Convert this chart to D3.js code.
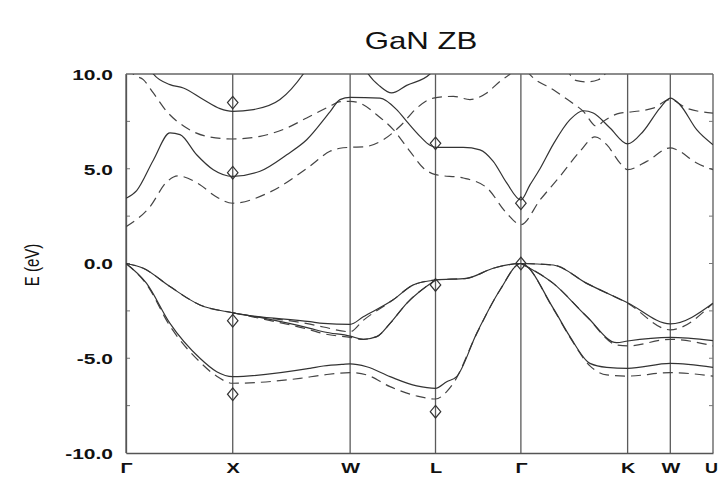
<!DOCTYPE html>
<html>
<head>
<meta charset="utf-8">
<script src="https://cdn.jsdelivr.net/npm/d3@7"></script>
<style>
  html, body { margin: 0; padding: 0; background: #fff; }
  svg { display: block; }
  text { font-family: "Liberation Sans", Arial, Helvetica, sans-serif; fill: #111; }
</style>
</head>
<body>
<svg id="chart" width="718" height="477"></svg>
<script>
// ---- data ----
const titleText = "GaN ZB";
const yLabel = "E (eV)";
const kTicks = [0, 1, 2.1, 2.9, 3.7, 4.7, 5.1, 5.5];
const kLabels = ["Γ", "X", "W", "L", "Γ", "K", "W", "U"];
const eTicks = [-10, -5, 0, 5, 10];
const eTickLabels = ["-10.0", "-5.0", "0.0", "5.0", "10.0"];
const eMinorTicks = [-7.5, -5, -2.5, 0, 2.5, 5, 7.5];

// solid bands (theory 1)
const solidCond1 = [[0,3.44],[0.10,3.85],[0.256,5.45],[0.412,6.89],[0.506,6.8],[0.662,5.74],[0.818,4.95],[1.0,4.6],[1.256,4.87],[1.506,5.74],[1.693,6.53],[1.911,8.0],[2.005,8.65],[2.1,8.77],[2.38,8.73],[2.536,8.12],[2.63,7.5],[2.755,6.71],[2.848,6.24],[2.9,6.13],[3.16,6.13],[3.317,6.0],[3.441,5.39],[3.567,4.25],[3.7,3.35],[3.785,4.15],[3.879,5.0],[4.004,6.3],[4.16,7.59],[4.285,8.06],[4.378,7.94],[4.535,7.15],[4.7,6.31],[4.847,6.98],[5.003,8.2],[5.1,8.73],[5.19,8.38],[5.347,7.06],[5.5,6.27]];
const solidCond2 = [[0.2,10.5],[0.256,10.0],[0.412,9.44],[0.537,9.26],[0.724,8.65],[0.881,8.17],[1.0,8.03],[1.193,8.12],[1.443,8.65],[1.661,10.0],[1.72,10.5]];
const solidCond3 = [[2.22,10.5],[2.27,10.0],[2.38,9.35],[2.489,9.0],[2.63,9.4],[2.848,10.0],[2.88,10.3]];
const solidVal1 = [[0,0],[0.162,-0.25],[0.412,-1.22],[0.693,-2.19],[1.0,-2.6],[1.724,-3.07],[1.849,-3.16],[2.1,-3.21],[2.223,-2.81],[2.5,-1.93],[2.692,-1.13],[2.9,-0.87],[3.192,-0.78],[3.441,-0.25],[3.7,0],[4.004,-0.08],[4.317,-1.05],[4.7,-2.07],[5.1,-3.19],[5.5,-2.1]];
const solidVal2a = [[1.0,-2.6],[1.3,-2.9],[1.724,-3.42],[1.849,-3.6],[2.1,-3.83],[2.223,-4.0],[2.349,-3.86],[2.474,-3.16],[2.63,-2.1],[2.9,-0.87]];
const solidVal2b = [[3.7,0],[4.004,-1.05],[4.317,-2.8],[4.598,-4.18],[4.7,-4.09],[5.1,-3.9],[5.5,-4.07]];
const solidVal3 = [[0,0],[0.193,-1.05],[0.412,-3.16],[0.693,-5.0],[0.85,-5.71],[1.0,-5.97],[1.724,-5.53],[1.849,-5.41],[2.036,-5.32],[2.1,-5.3],[2.255,-5.45],[2.474,-5.97],[2.724,-6.46],[2.9,-6.59],[3.005,-6.24],[3.098,-5.97],[3.286,-3.68],[3.504,-1.4],[3.7,0],[4.004,-2.37],[4.16,-3.86],[4.347,-5.27],[4.504,-5.48],[4.7,-5.53],[5.1,-5.27],[5.5,-5.48]];

// dashed bands (theory 2)
const dashCondA = [[0,1.94],[0.225,3.0],[0.381,4.3],[0.487,4.62],[0.693,4.16],[0.834,3.56],[1.0,3.18],[1.349,3.77],[1.724,5.14],[1.911,5.92],[2.005,6.08],[2.1,6.13],[2.223,6.15],[2.411,6.53],[2.567,7.24],[2.724,8.2],[2.88,8.73],[3.067,8.82],[3.223,8.65],[3.38,9.0],[3.504,9.61],[3.598,10.0],[3.7,10.6],[3.785,9.97],[4.004,9.17],[4.16,8.56],[4.285,8.03],[4.41,7.24],[4.472,7.5],[4.629,7.94],[4.7,7.98],[4.94,8.2],[5.1,8.65],[5.253,8.2],[5.5,7.94]];
const dashCondB = [[0.02,10.4],[0.068,10.0],[0.162,9.7],[0.256,9.0],[0.381,8.03],[0.569,7.15],[0.756,6.71],[1.0,6.57],[1.256,6.71],[1.506,7.15],[1.693,7.68],[1.911,8.3],[2.005,8.54],[2.1,8.56],[2.223,8.38],[2.349,7.85],[2.505,7.06],[2.661,5.92],[2.786,5.04],[2.9,4.69],[3.16,4.51],[3.38,4.0],[3.567,2.65],[3.7,2.05],[3.879,3.35],[4.066,4.6],[4.254,5.92],[4.394,6.68],[4.504,6.27],[4.629,5.3],[4.7,4.95],[4.879,5.39],[5.1,6.1],[5.16,6.0],[5.347,5.3],[5.5,4.95]];
const dashCondC = [[4.13,10.4],[4.16,9.97],[4.223,9.65],[4.317,9.58],[4.425,9.7],[4.488,10.0],[4.52,10.4]];
const dashVal1 = [[0,0],[0.162,-0.25],[0.412,-1.22],[0.693,-2.19],[1.0,-2.6],[1.724,-3.2],[1.849,-3.35],[2.1,-3.6],[2.223,-3.0],[2.5,-1.93],[2.692,-1.13],[2.9,-0.87],[3.192,-0.78],[3.441,-0.25],[3.7,0],[4.004,-0.08],[4.317,-1.05],[4.7,-2.1],[5.1,-3.5],[5.5,-2.1]];
const dashVal2a = [[1.0,-2.6],[1.3,-2.95],[1.724,-3.5],[1.849,-3.7],[2.1,-3.9],[2.223,-4.0],[2.349,-3.86],[2.474,-3.16],[2.63,-2.1],[2.9,-0.87]];
const dashVal2b = [[3.7,0],[4.004,-1.05],[4.317,-2.8],[4.598,-4.3],[4.7,-4.35],[5.1,-4.0],[5.5,-4.35]];
const dashVal3 = [[0,0],[0.193,-1.1],[0.412,-3.3],[0.693,-5.2],[0.85,-5.95],[1.0,-6.32],[1.63,-6.06],[1.849,-5.88],[2.1,-5.76],[2.255,-5.88],[2.474,-6.5],[2.724,-6.99],[2.9,-7.15],[3.005,-6.76],[3.067,-6.32],[3.286,-3.7],[3.504,-1.4],[3.7,0],[4.004,-2.4],[4.16,-3.9],[4.347,-5.4],[4.504,-5.88],[4.7,-5.94],[5.1,-5.76],[5.5,-5.94]];

// experimental points
const expPoints = [[1,8.49],[1,4.79],[1,-3.02],[1,-6.9],[2.9,6.34],[2.9,-1.13],[2.9,-7.82],[3.7,3.18],[3.7,0]];

const solidBands = [solidCond1, solidCond2, solidCond3, solidVal1, solidVal2a, solidVal2b, solidVal3];
const dashedBands = [dashCondA, dashCondB, dashCondC, dashVal1, dashVal2a, dashVal2b, dashVal3];

// ---- chart ----
const W = 718, H = 477;
const margin = { left: 126, right: 5, top: 74, bottom: 24 };
const svg = d3.select("#chart");
const x = d3.scaleLinear().domain([0, 5.5]).range([margin.left, W - margin.right]);
const y = d3.scaleLinear().domain([-10, 10]).range([H - margin.bottom, margin.top]);

svg.append("defs").append("clipPath").attr("id", "plotclip")
  .append("rect").attr("x", x(0)).attr("y", y(10)).attr("width", x(5.5) - x(0)).attr("height", y(-10) - y(10));

// vertical symmetry lines
svg.append("g").selectAll("line").data(kTicks).join("line")
  .attr("x1", d => x(d)).attr("x2", d => x(d))
  .attr("y1", y(10)).attr("y2", y(-10))
  .attr("stroke", "#5a5a5a").attr("stroke-width", 1.3);

// top border
svg.append("line").attr("x1", x(0)).attr("x2", x(5.5)).attr("y1", y(10)).attr("y2", y(10))
  .attr("stroke", "#666").attr("stroke-width", 1.3);

// inner minor ticks left and right
const tg = svg.append("g");
tg.selectAll("line.l").data(eMinorTicks).join("line").attr("class", "l")
  .attr("x1", x(0)).attr("x2", x(0) + 4).attr("y1", d => y(d)).attr("y2", d => y(d))
  .attr("stroke", "#777").attr("stroke-width", 1);
tg.selectAll("line.r").data(eMinorTicks).join("line").attr("class", "r")
  .attr("x1", x(5.5)).attr("x2", x(5.5) - 4).attr("y1", d => y(d)).attr("y2", d => y(d))
  .attr("stroke", "#777").attr("stroke-width", 1);

// axes
const yAxis = svg.append("g").attr("transform", `translate(${x(0)},0)`)
  .call(d3.axisLeft(y).tickValues(eTicks).tickFormat((d, i) => eTickLabels[i]).tickSize(0).tickSizeOuter(0));
yAxis.select(".domain").attr("stroke", "#555").attr("stroke-width", 1.3);
yAxis.selectAll("text").attr("x", 0).attr("dy", null)
  .attr("transform", "translate(-13,5.3) scale(1.4,1)")
  .style("font-size", "15px").style("font-weight", "bold").attr("fill", "#111")
  .attr("text-anchor", "end");

const xAxis = svg.append("g").attr("transform", `translate(0,${y(-10)})`)
  .call(d3.axisBottom(x).tickValues(kTicks).tickFormat((d, i) => kLabels[i]).tickSize(0).tickSizeOuter(0));
xAxis.select(".domain").attr("stroke", "#555").attr("stroke-width", 1.3);
const nK = kTicks.length;
xAxis.selectAll("text").attr("y", 0).attr("dy", null)
  .attr("text-anchor", (d, i) => i === nK - 1 ? "end" : "middle")
  .attr("transform", (d, i) => i === nK - 1 ? "translate(4.5,19.5) scale(1.2,1)" : "translate(0,19.5) scale(1.33,1)")
  .style("font-size", "15px").style("font-weight", "bold").attr("fill", "#111");

// band lines
const line = d3.line().x(d => x(d[0])).y(d => y(d[1])).curve(d3.curveMonotoneX);
const bands = svg.append("g").attr("clip-path", "url(#plotclip)");
bands.selectAll("path.dash").data(dashedBands).join("path").attr("class", "dash")
  .attr("d", line).attr("fill", "none").attr("stroke", "#444").attr("stroke-width", 1.2)
  .attr("stroke-dasharray", "10,6");
bands.selectAll("path.solid").data(solidBands).join("path").attr("class", "solid")
  .attr("d", line).attr("fill", "none").attr("stroke", "#333").attr("stroke-width", 1.2);

// experimental diamonds
const diamond = {
  draw(ctx, size) {
    const r = Math.sqrt(size) / 2;
    ctx.moveTo(0, -r * 1.2); ctx.lineTo(r, 0); ctx.lineTo(0, r * 1.2); ctx.lineTo(-r, 0); ctx.closePath();
  }
};
svg.append("g").selectAll("path").data(expPoints).join("path")
  .attr("transform", d => `translate(${x(d[0])},${y(d[1])})`)
  .attr("d", d3.symbol(diamond, 110)).attr("fill", "none").attr("stroke", "#333").attr("stroke-width", 1.2);

// title
svg.append("text").attr("text-anchor", "middle")
  .attr("transform", "translate(421,49) scale(1.3,1)")
  .style("font-size", "24px").text(titleText);

// y label
svg.append("text").attr("text-anchor", "middle")
  .attr("transform", "translate(39,265) rotate(-90) scale(1,1.3)")
  .style("font-size", "15px").text(yLabel);
</script>
</body>
</html>
